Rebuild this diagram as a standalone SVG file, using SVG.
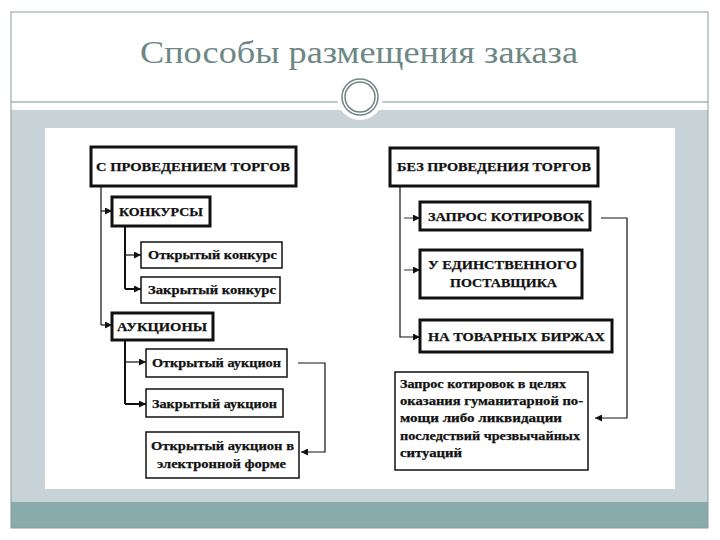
<svg xmlns="http://www.w3.org/2000/svg" width="720" height="540" viewBox="0 0 720 540">
<defs>
<style>
.bx{fill:#fff;stroke:#111}
.thk{stroke-width:3}
.thn{stroke-width:1.5}
.t{font-family:"Liberation Serif","DejaVu Serif",serif;font-weight:bold;font-size:12.5px;fill:#111;stroke:#111;stroke-width:0.25}
.p{font-family:"Liberation Serif","DejaVu Serif",serif;font-weight:bold;font-size:12px;fill:#111;stroke:#111;stroke-width:0.25}
.c{fill:none;stroke:#111;stroke-width:1.2}
.cw{fill:none;stroke:#111;stroke-width:2}
.cg{fill:none;stroke:#555;stroke-width:1.2}
</style>
<marker id="ar" viewBox="0 0 8 8" refX="8" refY="4" markerWidth="8" markerHeight="7" markerUnits="userSpaceOnUse" orient="auto">
<path d="M0,0 L8,4 L0,8 Z" fill="#111"/>
</marker>
</defs>
<rect width="720" height="540" fill="#fff"/>
<rect x="11" y="110" width="697" height="392" fill="#c8d3d7"/>
<rect x="11" y="502" width="697" height="26" fill="#8aabab"/>
<rect x="11" y="12" width="697" height="516" fill="none" stroke="#8c9a9a" stroke-width="1"/>
<line x1="11" y1="102" x2="708" y2="102" stroke="#7d8f8f" stroke-width="1.2"/>
<text x="140" y="63" textLength="438" lengthAdjust="spacingAndGlyphs" font-family="'Liberation Serif','DejaVu Serif',serif" font-size="31" fill="#6d8784">Способы размещения заказа</text>
<circle cx="360" cy="97" r="23" fill="#fff"/>
<circle cx="360" cy="97" r="18" fill="none" stroke="#6d8784" stroke-width="1.5"/>
<circle cx="360" cy="97" r="15" fill="none" stroke="#6d8784" stroke-width="1.5"/>
<rect x="45" y="128" width="630" height="361" fill="#fff"/>

<g id="connectors">
<path class="c" d="M101,186 V325"/>
<path class="c" d="M101,211 H112" marker-end="url(#ar)"/>
<path class="c" d="M101,325 H112" marker-end="url(#ar)"/>
<path class="cw" d="M125,226 V289"/>
<path class="c" d="M125,255 H141" marker-end="url(#ar)"/>
<path class="cw" d="M125,289 H141" marker-end="url(#ar)"/>
<path class="cw" d="M125,340 V404"/>
<path class="c" d="M125,362 H146" marker-end="url(#ar)"/>
<path class="cw" d="M125,404 H146" marker-end="url(#ar)"/>
<path class="c" d="M298,363 H325 V452 H301" marker-end="url(#ar)"/>
<path class="c" d="M400,186 V337 H420" marker-end="url(#ar)"/>
<path class="cg" d="M404,218 H420" marker-end="url(#ar)"/>
<path class="cg" d="M404,270 H420" marker-end="url(#ar)"/>
<path class="c" d="M601,218 H627 V418 H595" marker-end="url(#ar)"/>
</g>

<g id="n-torgi">
<rect class="bx thk" x="91" y="147" width="205" height="39"/>
<text class="t" x="96" y="171" textLength="194" lengthAdjust="spacingAndGlyphs">С ПРОВЕДЕНИЕМ ТОРГОВ</text>
</g>
<g id="n-konkursy">
<rect class="bx thk" x="112" y="197" width="98" height="29"/>
<text class="t" x="119" y="216" textLength="84" lengthAdjust="spacingAndGlyphs">КОНКУРСЫ</text>
</g>
<g id="n-otkr-konkurs">
<rect class="bx thn" x="141" y="242" width="141" height="26"/>
<text class="t" x="148" y="259" textLength="129" lengthAdjust="spacingAndGlyphs">Открытый конкурс</text>
</g>
<g id="n-zakr-konkurs">
<rect class="bx thn" x="141" y="277" width="139" height="26"/>
<text class="t" x="148" y="294" textLength="128" lengthAdjust="spacingAndGlyphs">Закрытый конкурс</text>
</g>
<g id="n-aukciony">
<rect class="bx thk" x="112" y="313" width="101" height="27"/>
<text class="t" x="117" y="331" textLength="90" lengthAdjust="spacingAndGlyphs">АУКЦИОНЫ</text>
</g>
<g id="n-otkr-aukc">
<rect class="bx thn" x="146" y="349" width="141" height="28"/>
<text class="t" x="152" y="367" textLength="129" lengthAdjust="spacingAndGlyphs">Открытый аукцион</text>
</g>
<g id="n-zakr-aukc">
<rect class="bx thn" x="146" y="389" width="137" height="28"/>
<text class="t" x="152" y="408" textLength="125" lengthAdjust="spacingAndGlyphs">Закрытый аукцион</text>
</g>
<g id="n-el-aukc">
<rect class="bx thn" x="146" y="432" width="153" height="46"/>
<text class="t" x="151" y="450" textLength="143" lengthAdjust="spacingAndGlyphs">Открытый аукцион в</text>
<text class="t" x="157" y="468" textLength="129" lengthAdjust="spacingAndGlyphs">электронной форме</text>
</g>

<g id="n-bez-torgov">
<rect class="bx thk" x="390" y="148" width="208" height="38"/>
<text class="t" x="397" y="171" textLength="194" lengthAdjust="spacingAndGlyphs">БЕЗ ПРОВЕДЕНИЯ ТОРГОВ</text>
</g>
<g id="n-zapros">
<rect class="bx thk" x="420" y="202" width="170" height="28"/>
<text class="t" x="428" y="221" textLength="156" lengthAdjust="spacingAndGlyphs">ЗАПРОС КОТИРОВОК</text>
</g>
<g id="n-edinstv">
<rect class="bx thk" x="420" y="250" width="162" height="48"/>
<text class="t" x="428" y="269" textLength="149" lengthAdjust="spacingAndGlyphs">У ЕДИНСТВЕННОГО</text>
<text class="t" x="450" y="287" textLength="107" lengthAdjust="spacingAndGlyphs">ПОСТАВЩИКА</text>
</g>
<g id="n-birzhi">
<rect class="bx thk" x="420" y="320" width="192" height="32"/>
<text class="t" x="428" y="341" textLength="177" lengthAdjust="spacingAndGlyphs">НА ТОВАРНЫХ БИРЖАХ</text>
</g>
<g id="n-gumanit">
<rect class="bx thn" x="395" y="372" width="193" height="98"/>
<text class="p" x="400" y="388" textLength="166" lengthAdjust="spacingAndGlyphs">Запрос котировок в целях</text>
<text class="p" x="400" y="405" textLength="183" lengthAdjust="spacingAndGlyphs">оказания гуманитарной по-</text>
<text class="p" x="400" y="422" textLength="162" lengthAdjust="spacingAndGlyphs">мощи либо ликвидации</text>
<text class="p" x="400" y="440" textLength="180" lengthAdjust="spacingAndGlyphs">последствий чрезвычайных</text>
<text class="p" x="400" y="457" textLength="62" lengthAdjust="spacingAndGlyphs">ситуаций</text>
</g>
</svg>
